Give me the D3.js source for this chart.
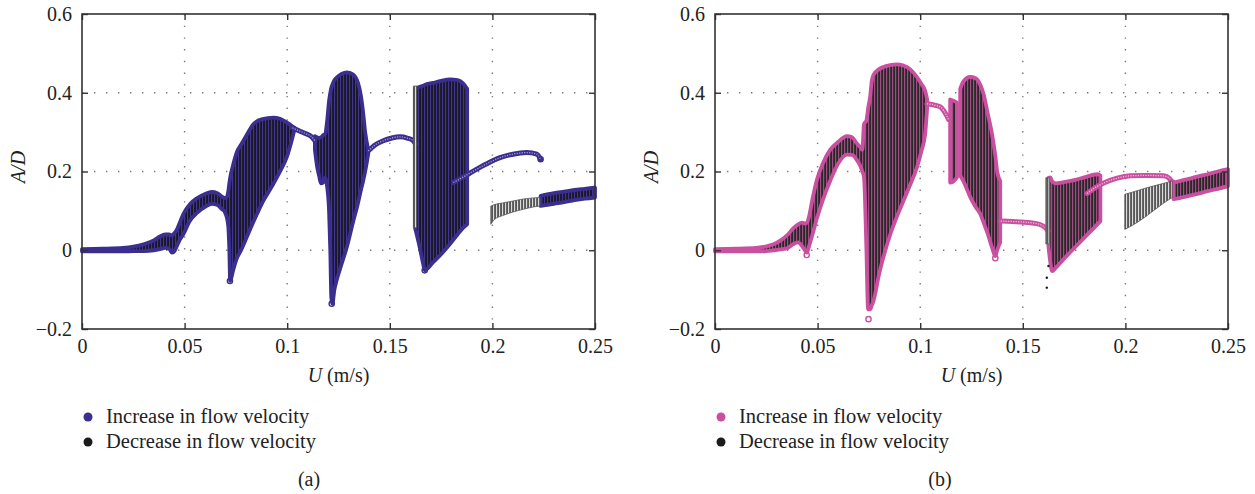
<!DOCTYPE html>
<html>
<head>
<meta charset="utf-8">
<script src="https://cdn.jsdelivr.net/npm/d3@7"></script>
<style>
    body { margin: 0; background: #fff; }
    svg { display: block; font-family: "Liberation Serif", "Times New Roman", serif; }
</style>
</head>
<body>
<svg id="stage" width="1255" height="494"></svg>
<script>
// axis ticks
var u_ticks = [0, 0.05, 0.1, 0.15, 0.2, 0.25];
var u_tick_labels = ['0', '0.05', '0.1', '0.15', '0.2', '0.25'];
var ad_ticks = [-0.2, 0, 0.2, 0.4, 0.6];
var ad_tick_labels = ['\u22120.2', '0', '0.2', '0.4', '0.6'];
var legend_labels = ['Increase in flow velocity', 'Decrease in flow velocity'];

// (a) increasing U: envelopes [U, lower A/D, upper A/D]
var a_inc_bands = [
    [[0, -0.003, 0.003], [0.01, -0.003, 0.004], [0.02, -0.003, 0.006], [0.025, -0.002, 0.009], [0.03, -0.002, 0.015],
     [0.035, 0, 0.025], [0.038, 0.003, 0.035], [0.0405, 0.006, 0.04], [0.0425, 0.004, 0.04], [0.0438, -0.006, 0.038],
     [0.0448, -0.004, 0.042], [0.046, 0.008, 0.05], [0.0475, 0.025, 0.068], [0.0494, 0.041, 0.092], [0.0526, 0.075, 0.117],
     [0.056, 0.095, 0.132], [0.06, 0.11, 0.143], [0.0632, 0.118, 0.148], [0.066, 0.115, 0.145], [0.068, 0.105, 0.137],
     [0.0695, 0.098, 0.133], [0.0705, 0.085, 0.134], [0.0713, 0.06, 0.15], [0.0718, 0, 0.17], [0.0722, -0.078, 0.184],
     [0.0737, -0.05, 0.218], [0.0755, -0.02, 0.25], [0.0775, 0, 0.268], [0.08, 0.03, 0.29], [0.0835, 0.072, 0.32],
     [0.0851, 0.09, 0.327], [0.088, 0.122, 0.333], [0.0932, 0.168, 0.337], [0.0965, 0.2, 0.334], [0.0997, 0.235, 0.325],
     [0.102, 0.275, 0.317], [0.1035, 0.305, 0.311]],
    [[0.1135, 0.255, 0.29], [0.1145, 0.215, 0.287], [0.1155, 0.19, 0.285], [0.1165, 0.17, 0.287], [0.1175, 0.172, 0.292],
     [0.1185, 0.185, 0.295], [0.1195, 0.16, 0.33], [0.1204, 0.1, 0.379], [0.121, 0, 0.4], [0.1215, -0.12, 0.413],
     [0.122, -0.136, 0.42], [0.123, -0.1, 0.432], [0.124, -0.078, 0.438], [0.1265, -0.035, 0.448], [0.129, 0.007, 0.452],
     [0.132, 0.07, 0.447], [0.1345, 0.12, 0.425], [0.136, 0.155, 0.39], [0.137, 0.176, 0.35], [0.138, 0.2, 0.3],
     [0.1395, 0.245, 0.255]],
    [[0.1623, 0.057, 0.41], [0.1646, 0.007, 0.415], [0.1663, -0.036, 0.418], [0.167, -0.051, 0.42], [0.171, -0.031, 0.425],
     [0.175, -0.01, 0.43], [0.1793, 0.016, 0.434], [0.183, 0.04, 0.432], [0.1857, 0.057, 0.424], [0.1877, 0.066, 0.41]],
    [[0.2235, 0.1125, 0.138], [0.23, 0.118, 0.145], [0.235, 0.122, 0.149], [0.24, 0.127, 0.153], [0.245, 0.131, 0.156],
     [0.25, 0.134, 0.159]]
];
// (a) period-one branches [U, A/D]
var a_inc_branches = [
    [[0.1025, 0.311], [0.106, 0.303], [0.1095, 0.295], [0.1115, 0.29], [0.1135, 0.278]],
    [[0.1395, 0.252], [0.143, 0.268], [0.1468, 0.278], [0.151, 0.285], [0.155, 0.288], [0.1585, 0.285], [0.1615, 0.278], [0.1625, 0.27]],
    [[0.181, 0.172], [0.1855, 0.185], [0.1907, 0.201], [0.197, 0.219], [0.2037, 0.235], [0.21, 0.244], [0.2167, 0.248], [0.2216, 0.244], [0.2235, 0.231]]
];
var a_inc_points = [[0.0721, -0.078], [0.1217, -0.136], [0.167, -0.051], [0.2235, 0.231]];
// (a) decreasing U
var a_dec_bands = [
    [[0.1615, 0.057, 0.417], [0.1632, 0.057, 0.417]],
    [[0.1992, 0.066, 0.112], [0.201, 0.078, 0.116], [0.205, 0.088, 0.12], [0.21, 0.097, 0.125], [0.215, 0.104, 0.13],
     [0.22, 0.11, 0.133], [0.2232, 0.1125, 0.134]]
];
var a_dec_points = [];

// (b) increasing U
var b_inc_bands = [
    [[0, -0.003, 0.003], [0.01, -0.003, 0.004], [0.02, -0.003, 0.006], [0.025, -0.002, 0.01], [0.0285, 0, 0.015],
     [0.032, 0.002, 0.025], [0.0355, 0.006, 0.04], [0.038, 0.015, 0.055], [0.0405, 0.02, 0.066], [0.0425, 0.01, 0.07],
     [0.0438, 0, 0.068], [0.0448, -0.006, 0.07], [0.0458, 0.01, 0.085], [0.0475, 0.04, 0.13], [0.0496, 0.08, 0.178],
     [0.0527, 0.13, 0.222], [0.0561, 0.176, 0.255], [0.06, 0.22, 0.275], [0.0642, 0.243, 0.29], [0.0668, 0.242, 0.287],
     [0.069, 0.23, 0.272], [0.0707, 0.215, 0.262], [0.0718, 0.2, 0.255], [0.0726, 0.186, 0.32], [0.0738, 0, 0.33],
     [0.0746, -0.15, 0.36], [0.0756, -0.15, 0.39], [0.0764, -0.14, 0.43], [0.0772, -0.129, 0.445], [0.08, -0.06, 0.46],
     [0.0854, 0.04, 0.47], [0.0886, 0.085, 0.472], [0.0918, 0.125, 0.469], [0.095, 0.165, 0.46], [0.0984, 0.21, 0.44],
     [0.1005, 0.25, 0.423], [0.1024, 0.295, 0.405], [0.1035, 0.37, 0.38]],
    [[0.1146, 0.172, 0.383], [0.1162, 0.175, 0.38], [0.1179, 0.185, 0.375]],
    [[0.1195, 0.19, 0.41], [0.121, 0.176, 0.428], [0.1244, 0.135, 0.44], [0.127, 0.11, 0.437], [0.1293, 0.092, 0.42],
     [0.1309, 0.07, 0.396], [0.133, 0.04, 0.345], [0.135, 0.007, 0.295], [0.1366, -0.015, 0.24], [0.1375, 0, 0.2],
     [0.139, 0.02, 0.176]],
    [[0.1625, 0.01, 0.184], [0.1634, -0.03, 0.185], [0.1643, -0.053, 0.175], [0.166, -0.045, 0.17], [0.17, -0.022, 0.173],
     [0.175, 0.005, 0.178], [0.18, 0.032, 0.185], [0.1862, 0.065, 0.193], [0.1878, 0.074, 0.19]],
    [[0.2235, 0.13, 0.172], [0.23, 0.137, 0.18], [0.235, 0.143, 0.187], [0.24, 0.15, 0.193], [0.245, 0.156, 0.2],
     [0.25, 0.163, 0.206]]
];
var b_inc_branches = [
    [[0.1033, 0.372], [0.1049, 0.371], [0.1075, 0.368], [0.1098, 0.364], [0.1114, 0.355], [0.113, 0.341], [0.1138, 0.332]],
    [[0.1392, 0.074], [0.145, 0.073], [0.1537, 0.07], [0.158, 0.066], [0.161, 0.057], [0.1622, 0.05]],
    [[0.1813, 0.144], [0.185, 0.158], [0.19, 0.172], [0.196, 0.183], [0.2024, 0.189], [0.21, 0.19], [0.2187, 0.189], [0.2215, 0.182], [0.2228, 0.172]]
];
var b_inc_points = [[0.0748, -0.175], [0.0447, -0.012], [0.1366, -0.02], [0.2228, 0.172]];
var b_dec_bands = [
    [[0.1612, 0.016, 0.184], [0.1628, 0.016, 0.184]],
    [[0.1997, 0.053, 0.142], [0.2037, 0.064, 0.148], [0.21, 0.086, 0.158], [0.2187, 0.12, 0.17], [0.2228, 0.134, 0.176]]
];
var b_dec_points = [[0.1617, -0.07], [0.1617, -0.095], [0.1625, -0.04]];

var panels = [
    {name: 'a', left: 82, color: '#3a2e8e', light: '#a49fd2', inc_bands: a_inc_bands, inc_branches: a_inc_branches,
     inc_points: a_inc_points, dec_bands: a_dec_bands, dec_points: a_dec_points, caption: '(a)', caption_x: 309},
    {name: 'b', left: 715, color: '#c8509f', light: '#ecbfdc', inc_bands: b_inc_bands, inc_branches: b_inc_branches,
     inc_points: b_inc_points, dec_bands: b_dec_bands, dec_points: b_dec_points, caption: '(b)', caption_x: 940}
];
var plot_size = {width: 513, height: 315, top: 14};
var dec_color = '#1b1b1b';

var svg = d3.select('#stage');
var defs = svg.append('defs');

// stripe fills for the dense vertical scatter
function make_stripes(id, bg, line, w) {
    var p = defs.append('pattern').attr('id', id).attr('patternUnits', 'userSpaceOnUse')
        .attr('width', 3).attr('height', 10);
    p.append('rect').attr('width', 3).attr('height', 10).attr('fill', bg);
    p.append('rect').attr('x', 1.2).attr('width', w).attr('height', 10).attr('fill', line);
}
make_stripes('stripe_a', '#40368f', '#15131f', 1.7);
make_stripes('stripe_b', '#a04d84', '#2a2729', 1.8);
make_stripes('stripe_dec', '#dcdcdc', '#4a4a4a', 1.7);

panels.forEach(function (pn) {
    var x = d3.scaleLinear().domain([0, 0.25]).range([0, plot_size.width]);
    var y = d3.scaleLinear().domain([-0.2, 0.6]).range([plot_size.height, 0]);
    var g = svg.append('g').attr('transform', 'translate(' + pn.left + ',' + plot_size.top + ')');

    // dotted grid
    var grid = g.append('g');
    grid.selectAll('line.gx').data(u_ticks.slice(1, -1)).enter().append('line')
        .attr('x1', function (d) { return x(d); }).attr('x2', function (d) { return x(d); })
        .attr('y1', 0).attr('y2', plot_size.height)
        .attr('stroke', '#7a7a7a').attr('stroke-width', 1.4).attr('stroke-dasharray', '1.4,10.3');
    grid.selectAll('line.gy').data(ad_ticks.slice(1, -1)).enter().append('line')
        .attr('y1', function (d) { return y(d); }).attr('y2', function (d) { return y(d); })
        .attr('x1', 0).attr('x2', plot_size.width)
        .attr('stroke', '#7a7a7a').attr('stroke-width', 1.4).attr('stroke-dasharray', '1.4,10.6');

    var area = d3.area().curve(d3.curveMonotoneX)
        .x(function (d) { return x(d[0]); })
        .y0(function (d) { return y(d[1]); })
        .y1(function (d) { return y(d[2]); });
    var line = d3.line().curve(d3.curveMonotoneX)
        .x(function (d) { return x(d[0]); })
        .y(function (d) { return y(d[1]); });

    // increase series
    g.selectAll('path.inc').data(pn.inc_bands).enter().append('path')
        .attr('d', area)
        .attr('fill', 'url(#stripe_' + pn.name + ')')
        .attr('stroke', pn.color).attr('stroke-width', 3.8).attr('stroke-linejoin', 'round');
    g.selectAll('path.branch').data(pn.inc_branches).enter().append('path')
        .attr('d', line).attr('fill', 'none')
        .attr('stroke', pn.color).attr('stroke-width', 5).attr('stroke-linecap', 'round');
    g.selectAll('path.branch_in').data(pn.inc_branches).enter().append('path')
        .attr('d', line).attr('fill', 'none')
        .attr('stroke', pn.light).attr('stroke-width', 1.3).attr('stroke-dasharray', '1.2,1.3');
    g.selectAll('circle.inc').data(pn.inc_points).enter().append('circle')
        .attr('cx', function (d) { return x(d[0]); }).attr('cy', function (d) { return y(d[1]); })
        .attr('r', 2.6).attr('fill', 'none').attr('stroke', pn.color).attr('stroke-width', 1.4);

    // decrease series
    g.selectAll('path.dec').data(pn.dec_bands).enter().append('path')
        .attr('d', area)
        .attr('fill', 'url(#stripe_dec)')
        .attr('stroke', '#555').attr('stroke-width', 0.8);
    g.selectAll('circle.dec').data(pn.dec_points).enter().append('circle')
        .attr('cx', function (d) { return x(d[0]); }).attr('cy', function (d) { return y(d[1]); })
        .attr('r', 1.2).attr('fill', dec_color);

    // frame and inward ticks on every side
    var ax_b = d3.axisBottom(x).tickValues(u_ticks).tickSizeInner(-6).tickSizeOuter(0).tickPadding(10)
        .tickFormat(function (d, i) { return u_tick_labels[i]; });
    var ax_t = d3.axisTop(x).tickValues(u_ticks).tickSizeInner(-6).tickSizeOuter(0).tickFormat('');
    var ax_l = d3.axisLeft(y).tickValues(ad_ticks).tickSizeInner(-6).tickSizeOuter(0).tickPadding(10)
        .tickFormat(function (d, i) { return ad_tick_labels[i]; });
    var ax_r = d3.axisRight(y).tickValues(ad_ticks).tickSizeInner(-6).tickSizeOuter(0).tickFormat('');
    [[ax_b, 'translate(0,' + plot_size.height + ')'], [ax_t, 'translate(0,0)'],
     [ax_l, 'translate(0,0)'], [ax_r, 'translate(' + plot_size.width + ',0)']].forEach(function (a) {
        var ag = g.append('g').attr('transform', a[1]).call(a[0]);
        ag.select('.domain').remove();
        ag.selectAll('line').attr('stroke', '#333').attr('stroke-width', 1.4);
        ag.selectAll('text').attr('fill', '#222').style('font-size', '20px')
            .style('font-family', '"Liberation Serif", "Times New Roman", serif');
    });
    g.append('rect').attr('width', plot_size.width).attr('height', plot_size.height)
        .attr('fill', 'none').attr('stroke', '#333').attr('stroke-width', 1.6);

    // axis titles
    g.append('text').attr('transform', 'translate(' + (-57) + ',' + 153 + ') rotate(-90)')
        .attr('text-anchor', 'middle').attr('font-size', 20).attr('font-style', 'italic').attr('fill', '#222')
        .text('A/D');
    var xt = g.append('text').attr('x', plot_size.width / 2).attr('y', 368)
        .attr('text-anchor', 'middle').attr('font-size', 20).attr('fill', '#222');
    xt.append('tspan').attr('font-style', 'italic').text('U');
    xt.append('tspan').text(' (m/s)');

    // legend
    var leg_colors = [pn.color, dec_color];
    var lg = svg.append('g').attr('transform', 'translate(' + (pn.left + 6) + ',0)');
    legend_labels.forEach(function (t, i) {
        lg.append('circle').attr('cx', 0).attr('cy', 417 + i * 25).attr('r', 4.5).attr('fill', leg_colors[i]);
        lg.append('text').attr('x', 18).attr('y', 423 + i * 25).attr('font-size', 20.5).attr('fill', '#222').text(t);
    });
    svg.append('text').attr('x', pn.caption_x).attr('y', 486).attr('text-anchor', 'middle')
        .attr('font-size', 20).attr('fill', '#222').text(pn.caption);
});
</script>
</body>
</html>
